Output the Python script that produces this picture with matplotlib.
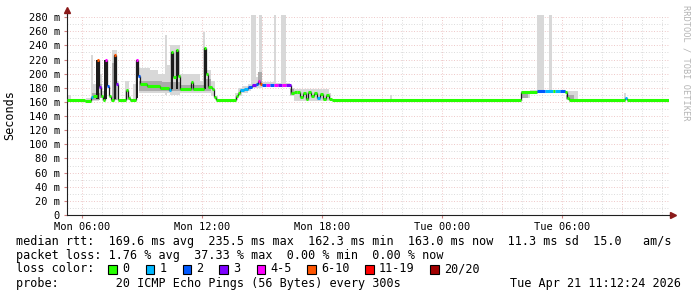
import numpy as np
import matplotlib
matplotlib.use("Agg")
import matplotlib.pyplot as plt
from matplotlib.patches import Rectangle

# ---------------------------------------------------------------
# data (time in hours since Mon 00:00, values in ms)
# ---------------------------------------------------------------
T_START, T_END = 5.25, 35.35

LOSS_COLORS = ['#26ff00', '#00b8ff', '#0059ff', '#7e00ff',
               '#ff00ff', '#ff5500', '#ff0000', '#a10000']
LOSS_LABELS = ['0', '1', '2', '3', '4-5', '6-10', '11-19', '20/20']

# median rtt steps: start hour, value, loss class
median_h = [5.25, 6.15, 6.45, 6.55, 6.75, 6.85, 6.95, 7.05, 7.15, 7.25,
            7.35, 7.45, 7.6, 7.7, 7.8, 8.2, 8.3, 8.4, 8.7, 8.8,
            8.9, 9.25, 9.9, 10.35, 10.45, 10.55, 10.7, 10.8, 10.9, 11.45,
            11.55, 12.1, 12.2, 12.3, 12.5, 12.6, 12.7, 13.7, 13.8, 13.9,
            14.1, 14.3, 14.5, 14.7, 14.8, 14.9, 15.0, 15.2, 15.4, 15.6,
            15.8, 16.0, 16.2, 16.45, 16.6, 16.75, 16.9, 17.05, 17.2, 17.3,
            17.45, 17.6, 17.75, 17.9, 18.05, 18.2, 18.35, 18.5, 27.95, 28.75,
            29.15, 29.55, 29.65, 29.9, 30.15, 30.25, 30.35, 33.15, 33.25]
median_ms = [163, 161.5, 167, 168, 219, 181, 168, 163, 219, 182,
             168, 163, 226, 185, 163, 177, 166, 163, 219, 197,
             185, 182, 179, 177, 230, 195, 233, 196, 178, 188,
             178, 236, 199, 181, 178, 167, 163, 168, 173, 177,
             178, 181, 184, 185, 190, 186, 184, 184, 184, 184,
             184, 184, 184, 172, 174, 174, 167, 172, 164, 174,
             168, 172, 165, 171, 164, 170, 164, 163, 174, 175,
             175, 175, 175, 175, 174, 165, 163, 166, 163]
median_loss = [0, 0, 1, 0, 5, 3, 0, 0, 4, 2,
               0, 0, 5, 3, 0, 0, 0, 0, 4, 2,
               0, 0, 0, 1, 0, 0, 0, 0, 0, 0,
               0, 0, 0, 0, 0, 0, 0, 0, 0, 1,
               1, 2, 3, 2, 4, 5, 2, 4, 2, 4,
               3, 4, 3, 0, 0, 0, 0, 0, 0, 0,
               0, 0, 1, 0, 0, 0, 0, 0, 0, 2,
               1, 0, 1, 2, 0, 0, 0, 1, 0]

# dark smoke columns under the spikes
spike_h = [6.72, 7.12, 7.58, 8.68, 10.43, 10.68, 12.08]
spike_top = [219, 219, 226, 219, 230, 233, 236]
spike_base = [164, 164, 164, 166, 178, 178, 178]

# light smoke envelope (step): start hour, low, high
smoke_h = [5.25, 5.3, 5.45, 6.2, 6.45, 6.55, 6.85, 7.0, 7.1, 7.5,
           7.75, 7.85, 8.15, 8.35, 8.45, 8.55, 8.7, 8.85, 9.4, 9.8,
           10.15, 10.25, 10.4, 10.9, 11.3, 11.9, 12.05, 12.15, 12.45, 12.65,
           12.8, 13.65, 13.8, 14.0, 14.3, 14.45, 14.7, 14.85, 15.0, 15.6,
           15.7, 15.95, 16.2, 16.4, 16.6, 18.35, 18.45, 21.4, 21.5, 27.95,
           28.4, 28.75, 29.1, 29.35, 29.5, 30.2, 30.8, 33.1, 33.2, T_END]
smoke_lo = [163, 162, 163, 160, 162, 162, 165, 163, 163, 163,
            163, 163, 163, 163, 163, 163, 163, 172, 172, 172,
            170, 172, 170, 172, 172, 172, 172, 172, 168, 163,
            163, 163, 168, 172, 176, 180, 180, 180, 182, 182,
            182, 182, 182, 168, 162, 163, 163, 163, 163, 165,
            172, 172, 172, 172, 172, 163, 163, 163, 163, 163]
smoke_hi = [163, 170, 163, 166, 226, 185, 200, 175, 163, 233,
            190, 163, 190, 168, 163, 186, 163, 208, 205, 200,
            255, 212, 240, 200, 200, 190, 259, 205, 190, 168,
            163, 172, 180, 183, 186, 283, 195, 283, 188, 283,
            187, 283, 187, 180, 178, 172, 163, 170, 163, 175,
            177, 283, 177, 283, 177, 175, 163, 172, 163, 163]

# darker smoke core
core_h = [5.25, 6.5, 6.9, 7.0, 7.5, 7.75, 8.85, 10.0, 10.9, 12.2,
          12.45, 14.8, 15.0, 16.4, 16.6, 18.4, 28.0, 28.3, 30.2, 30.6, T_END]
core_lo = [163, 163, 165, 163, 163, 163, 176, 175, 175, 175,
           163, 184, 163, 170, 163, 163, 166, 163, 164, 163, 163]
core_hi = [163, 172, 185, 163, 215, 163, 190, 188, 184, 192,
           163, 202, 163, 178, 163, 163, 174, 163, 170, 163, 163]

x_ticks = [6, 12, 18, 24, 30]
x_labels = ['Mon 06:00', 'Mon 12:00', 'Mon 18:00', 'Tue 00:00', 'Tue 06:00']
y_ticks = list(range(0, 281, 20))
y_labels = ['0'] + ['%d m' % v for v in y_ticks[1:]]

stats_rows = [
    'median rtt:  169.6 ms avg  235.5 ms max  162.3 ms min  163.0 ms now  11.3 ms sd  15.0   am/s',
    'packet loss: 1.76 % avg  37.33 % max  0.00 % min  0.00 % now',
]
probe_text = 'probe:        20 ICMP Echo Pings (56 Bytes) every 300s'
stamp_text = 'Tue Apr 21 11:12:24 2026'

# ---------------------------------------------------------------
# figure
# ---------------------------------------------------------------
W, H = 697, 297
plt.rcParams['font.family'] = ['DejaVu Sans Mono']
fig = plt.figure(figsize=(W / 100, H / 100), dpi=100)
fig.patch.set_facecolor('white')

def fx(px):
    return px / W

def fy(py):
    return 1 - py / H

ax = fig.add_axes([fx(67), fy(215), (669 - 67) / W, 200 / H])
ax.set_xlim(T_START, T_END)
ax.set_ylim(0, 283)

# grid
MINOR = '#cfcfcf'
MAJOR = '#e8b4b4'
for v in range(10, 281, 20):
    ax.axhline(v, color=MINOR, lw=0.6, ls=(0, (1, 2.2)), zorder=0)
for v in range(20, 281, 20):
    ax.axhline(v, color=MAJOR, lw=0.6, ls=(0, (1, 2.2)), zorder=0)
for hh in range(6, 36):
    col = MAJOR if hh % 3 == 0 else MINOR
    ax.axvline(hh, color=col, lw=0.6, ls=(0, (1, 2.2)), zorder=0)

# smoke
ax.fill_between(smoke_h, smoke_lo, smoke_hi, step='post', color='#d8d8d8', lw=0, zorder=1)
ax.fill_between(core_h, core_lo, core_hi, step='post', color='#aaaaaa', lw=0, zorder=2)
ax.bar(spike_h, np.array(spike_top) - np.array(spike_base), bottom=spike_base,
       width=0.13, align='edge', color='#1c1c1c', lw=0, zorder=3)

# median line coloured by loss
edges = median_h + [T_END]
ax.vlines(median_h[1:], median_ms[:-1], median_ms[1:], color='#1c1c1c', lw=0.9, zorder=4)
for i, v in enumerate(median_ms):
    ax.hlines(v, edges[i], edges[i + 1], color=LOSS_COLORS[median_loss[i]], lw=2.2, zorder=5)

# axes and ticks
for s in ['top', 'right']:
    ax.spines[s].set_visible(False)
ax.spines['left'].set_color('#202020')
ax.spines['bottom'].set_color('#202020')
ax.set_xticks(x_ticks)
ax.set_xticklabels(x_labels, fontsize=7.5)
ax.set_yticks(y_ticks)
ax.set_yticklabels(y_labels, fontsize=7.5)
ax.tick_params(axis='both', length=2, color='#d08080', pad=3)
ax.set_ylabel('Seconds', fontsize=8.5, labelpad=9)

# arrows at the axis ends
ax.plot([T_START, T_START], [283, 290], color='#202020', lw=0.8, clip_on=False)
ax.plot([T_START], [290], marker='^', ms=4, color='#8b1a1a', clip_on=False)
ax.plot([T_END, 35.5], [0, 0], color='#202020', lw=0.8, clip_on=False)
ax.plot([35.55], [0], marker='>', ms=4, color='#8b1a1a', clip_on=False)

# watermark
fig.text(fx(686), fy(5), 'RRDTOOL / TOBI OETIKER', rotation=270, fontsize=6.2,
         color='#b4b4b4', ha='center', va='top')

# legend / stats rows
fig.text(fx(16), fy(241), stats_rows[0], fontsize=8.5, va='center')
fig.text(fx(16), fy(255), stats_rows[1], fontsize=8.5, va='center')
fig.text(fx(16), fy(269), 'loss color:', fontsize=8.5, va='center')
box_x = [108, 145.5, 182.5, 219, 256.5, 307, 365, 430]
for bx, c, lab in zip(box_x, LOSS_COLORS, LOSS_LABELS):
    fig.patches.append(Rectangle((fx(bx), fy(273.5)), 8.5 / W, 8.5 / H,
                                 transform=fig.transFigure, facecolor=c,
                                 edgecolor='black', lw=0.8))
    fig.text(fx(bx + 14), fy(269), lab, fontsize=8.5, va='center')
fig.text(fx(16), fy(283), probe_text, fontsize=8.5, va='center')
fig.text(fx(681), fy(283), stamp_text, fontsize=8.5, va='center', ha='right')

fig.savefig('out.png', dpi=100, facecolor='white')
